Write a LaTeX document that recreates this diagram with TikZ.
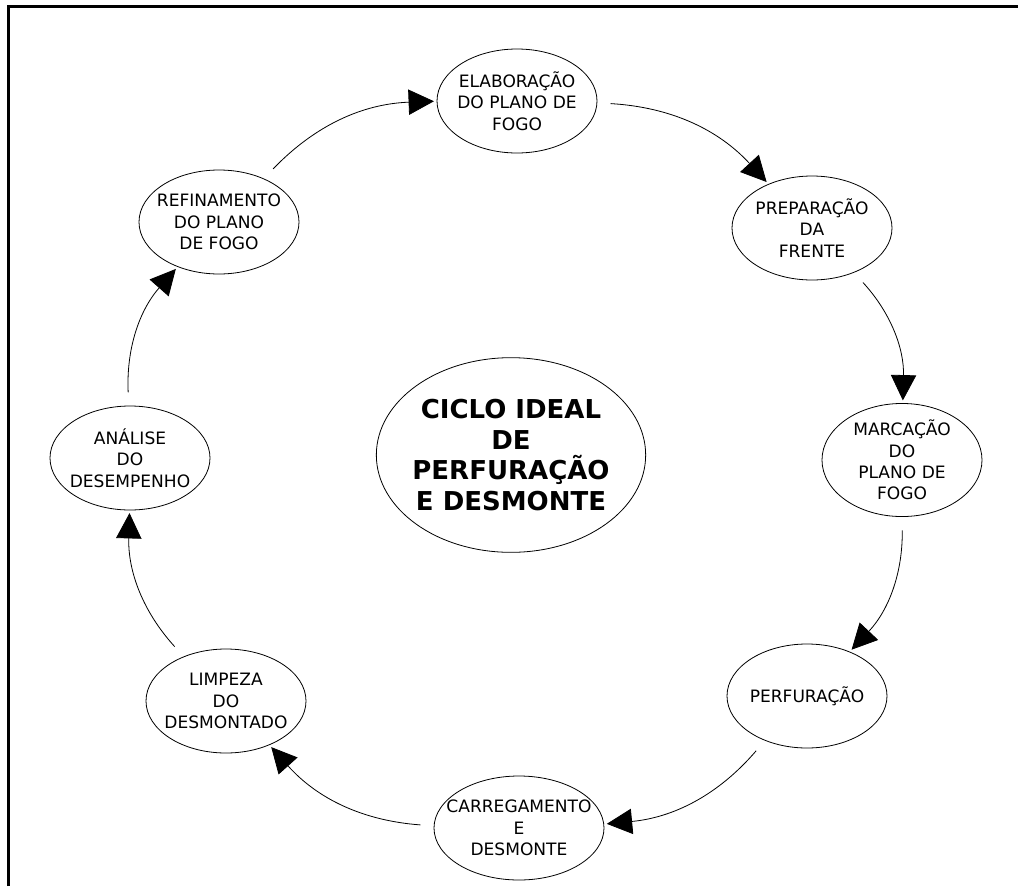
\documentclass[tikz,border=0pt]{standalone}
\usepackage{fontspec}
\setmainfont{DejaVu Sans}
\usetikzlibrary{shapes,arrows.meta}

\begin{document}
\begin{tikzpicture}[x=0.75pt,y=0.75pt,>={Triangle[length=19pt,width=19pt]}]

\def\bendAngle{22}

\tikzstyle{stage}=[ellipse,draw=black,fill=white,line width=0.6pt,minimum width=120pt,minimum height=78pt,inner xsep=-20pt,inner ysep=0pt,align=center,font=\fontsize{12.8}{16}\selectfont]
\tikzstyle{wideStage}=[stage, minimum width=127.5pt];
\tikzstyle{cycleTitle}=[stage, minimum width=202pt,minimum height=146pt,font=\bfseries\fontsize{19.5}{23}\selectfont];
\tikzstyle{cycleArrow}=[->,line width=0.6pt,shorten <=10pt,shorten >=2pt];

\useasboundingbox (0,0) rectangle (1018,-886);
%Frame
\draw[line width=2.25pt] (8.5,-886) -- (8.5,-6.5) -- (1018,-6.5);

\node[cycleTitle] (ciclo) at (511,-455) {CICLO IDEAL\\DE\\PERFURAÇÃO\\E DESMONTE};

\node[stage] (elaboracao) at (517,-101) {ELABORAÇÃO\\DO PLANO DE\\FOGO};
\node[stage] (preparacao) at (812,-228) {PREPARAÇÃO\\DA\\FRENTE};
\node[stage] (marcacao) at (902,-460) {MARCAÇÃO\\DO\\PLANO DE\\FOGO};
\node[stage] (perfuracao) at (807,-696) {PERFURAÇÃO};
\node[wideStage] (carregamento) at (519,-828) {CARREGAMENTO\\E\\DESMONTE};
\node[stage] (limpeza) at (226,-701) {LIMPEZA\\DO\\DESMONTADO};
\node[stage] (analise) at (130,-458) {ANÁLISE\\DO\\DESEMPENHO};
\node[stage] (refinamento) at (219,-222) {REFINAMENTO\\DO PLANO\\DE FOGO};

%cycle connections.
\draw[cycleArrow] (elaboracao) to[bend left=\bendAngle] (preparacao);
\draw[cycleArrow] (preparacao) to[bend left=\bendAngle] (marcacao);
\draw[cycleArrow] (marcacao) to[bend left=\bendAngle] (perfuracao);
\draw[cycleArrow] (perfuracao) to[bend left=\bendAngle] (carregamento);
\draw[cycleArrow] (carregamento) to[bend left=\bendAngle] (limpeza);
\draw[cycleArrow] (limpeza) to[bend left=\bendAngle] (analise);
\draw[cycleArrow] (analise) to[bend left=\bendAngle] (refinamento);
\draw[cycleArrow] (refinamento) to[bend left=\bendAngle] (elaboracao);

\end{tikzpicture}
\end{document}
